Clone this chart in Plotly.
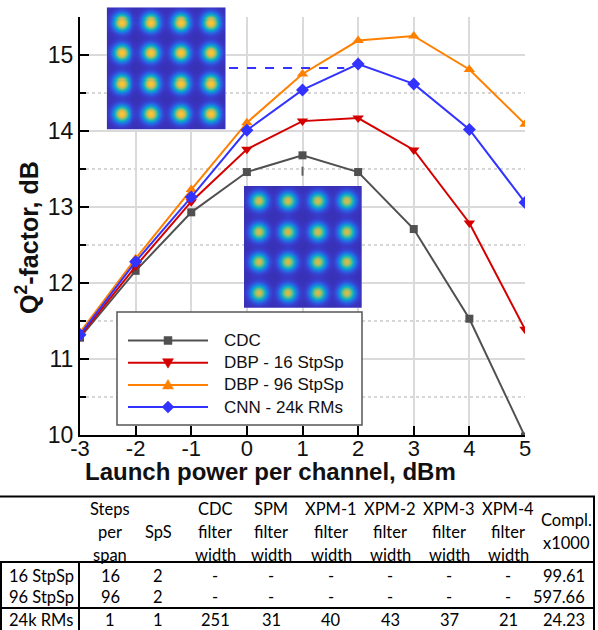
import numpy as np
import plotly.graph_objects as go

W, H = 598, 630

# ---------------- data ----------------
power = [-3, -2, -1, 0, 1, 2, 3, 4, 5]
power_labels = ["-3", "-2", "-1", "0", "1", "2", "3", "4", "5"]
q_ticks = [10, 11, 12, 13, 14, 15]

q_cdc = [11.28, 12.16, 12.93, 13.46, 13.68, 13.46, 12.71, 11.53, 9.98]
q_dbp16 = [11.30, 12.22, 13.07, 13.76, 14.13, 14.17, 13.75, 12.79, 11.39]
q_dbp96 = [11.35, 12.32, 13.23, 14.11, 14.75, 15.19, 15.25, 14.81, 14.09]
q_cnn = [11.32, 12.28, 13.13, 14.01, 14.54, 14.88, 14.62, 14.02, 13.06]

series_names = ["CDC", "DBP - 16 StpSp", "DBP - 96 StpSp", "CNN - 24k RMs"]
series_values = [q_cdc, q_dbp16, q_dbp96, q_cnn]
series_colors = ["#505050", "#d40000", "#ff8000", "#3333ff"]
series_symbols = ["square", "triangle-down", "triangle-up", "diamond"]
series_sizes = [8, 10, 10, 10]

# constellation-density insets: blob centres and peak levels
blob_pos = [0.5, 1.5, 2.5, 3.5]
inset_peaks = [0.80, 0.68]
inset_bg = 0.05
blob_sigma = 0.19

# table
table_header = [["Steps", "per", "span"], ["SpS"], ["CDC", "filter", "width"],
                ["SPM", "filter", "width"], ["XPM-1", "filter", "width"],
                ["XPM-2", "filter", "width"], ["XPM-3", "filter", "width"],
                ["XPM-4", "filter", "width"], ["Compl.", "x1000"]]
row_labels = ["16 StpSp", "96 StpSp", "24k RMs"]
table_rows = [
    ["16", "2", "-", "-", "-", "-", "-", "-", "99.61"],
    ["96", "2", "-", "-", "-", "-", "-", "-", "597.66"],
    ["1", "1", "251", "31", "40", "43", "37", "21", "24.23"],
]

# ---------------- helpers ----------------
def px(x):
    return x / W


def py(y):
    return 1 - y / H


FONT = "Liberation Sans, Arial, sans-serif"
TFONT = "Lato, Carlito, Calibri, sans-serif"

fig = go.Figure()

for name, vals, col, sym, sz in zip(series_names, series_values, series_colors,
                                    series_symbols, series_sizes):
    fig.add_trace(go.Scatter(
        x=power, y=vals, name=name, mode="lines+markers",
        line=dict(color=col, width=2),
        marker=dict(symbol=sym, size=sz, color=col, line=dict(width=0)),
        showlegend=False, xaxis="x", yaxis="y"))

# parula-like colour scale
parula = [[0.0, "#33289a"], [0.08, "#3a36c4"], [0.18, "#2c5ae2"], [0.28, "#1882dc"],
          [0.38, "#0ea2cd"], [0.48, "#2db7aa"], [0.58, "#75bf7e"], [0.68, "#bcbc5c"],
          [0.78, "#eebc3e"], [0.88, "#fbcf2c"], [1.0, "#f9fb0e"]]

ngrid = 120
g = (np.arange(ngrid) + 0.5) * 4.0 / ngrid
GX, GY = np.meshgrid(g, g)
for k, peak in enumerate(inset_peaks):
    z = np.full_like(GX, inset_bg)
    for cx in blob_pos:
        for cy in blob_pos:
            z += peak * np.exp(-((GX - cx) ** 2 + (GY - cy) ** 2) / (2 * blob_sigma ** 2))
    fig.add_trace(go.Heatmap(
        x=g, y=g, z=z, colorscale=parula, zmin=0, zmax=1, showscale=False,
        hoverinfo="skip", xaxis=f"x{k+2}", yaxis=f"y{k+2}"))

# ---------------- layout ----------------
X0, X1, Y0, Y1 = 80, 525, 17, 435
inset1 = (106.7, 225.7, 7.3, 129.7)
inset2 = (244, 361.7, 186, 307.7)

hidden = dict(visible=False, showgrid=False, zeroline=False, range=[0, 4], fixedrange=True)

fig.update_layout(
    width=W, height=H, margin=dict(l=0, r=0, t=0, b=0),
    paper_bgcolor="white", plot_bgcolor="white",
    showlegend=False,
    xaxis=dict(domain=[px(X0), px(X1)], range=[-3, 5], tickvals=power, ticktext=power_labels,
               showline=True, linecolor="black", linewidth=2, ticks="inside", ticklen=9,
               tickwidth=2, tickcolor="black", showgrid=True, gridcolor="#dadada",
               gridwidth=1.5, zeroline=False, automargin=False, ticklabelstandoff=-7,
               tickfont=dict(family=FONT, size=22, color="#111"), anchor="y"),
    yaxis=dict(domain=[py(Y1), py(Y0)], range=[10, 15.5], tickvals=q_ticks,
               showline=True, linecolor="black", linewidth=2, ticks="inside", ticklen=9,
               tickwidth=2, tickcolor="black", showgrid=True, gridcolor="#dadada",
               gridwidth=1.5, zeroline=False, automargin=False,
               tickfont=dict(family=FONT, size=23, color="#111"), anchor="x",
               minor=dict(dtick=0.5, tick0=10, ticks="inside", ticklen=6, tickwidth=1.5,
                          tickcolor="black", showgrid=True, griddash="dot",
                          gridcolor="#d6d6d6", gridwidth=1.5)),
    xaxis2=dict(domain=[px(inset1[0]), px(inset1[1])], anchor="y2", **hidden),
    yaxis2=dict(domain=[py(inset1[3]), py(inset1[2])], anchor="x2", **hidden),
    xaxis3=dict(domain=[px(inset2[0]), px(inset2[1])], anchor="y3", **hidden),
    yaxis3=dict(domain=[py(inset2[3]), py(inset2[2])], anchor="x3", **hidden),
)

shapes = []
ann = []

# leader lines from insets
shapes.append(dict(type="line", xref="x", yref="y", x0=-0.32, x1=1.75, y0=14.83, y1=14.83,
                   line=dict(color="#3333ff", width=2, dash="dash")))
shapes.append(dict(type="line", xref="x", yref="y", x0=1, x1=1, y0=13.53, y1=13.30,
                   line=dict(color="#606060", width=2, dash="dash")))

# axis titles
ann.append(dict(text="<b>Q<sup>2</sup>-factor, dB</b>", x=px(27), y=py(238), xref="paper",
                yref="paper", showarrow=False, textangle=-90,
                font=dict(family=FONT, size=25, color="#111"), xanchor="center",
                yanchor="middle"))
ann.append(dict(text="<b>Launch power per channel, dBm</b>", x=px(270), y=py(471),
                xref="paper", yref="paper", showarrow=False,
                font=dict(family=FONT, size=24, color="#111"), xanchor="center",
                yanchor="middle"))

# legend (drawn)
LB = (117, 312, 362, 425)
shapes.append(dict(type="rect", xref="paper", yref="paper", x0=px(LB[0]), x1=px(LB[2]),
                   y0=py(LB[3]), y1=py(LB[1]), line=dict(color="#555", width=1.5),
                   fillcolor="white"))
leg_y0, leg_dy = 340.5, 22.2
for i, (name, col, sym) in enumerate(zip(series_names, series_colors, series_symbols)):
    yc = leg_y0 + i * leg_dy
    shapes.append(dict(type="line", xref="paper", yref="paper", x0=px(128), x1=px(208),
                       y0=py(yc), y1=py(yc), line=dict(color=col, width=2)))
    mx = 168
    if sym == "square":
        pts = [(mx - 4, yc - 4), (mx + 4, yc - 4), (mx + 4, yc + 4), (mx - 4, yc + 4)]
    elif sym == "triangle-down":
        pts = [(mx - 5.5, yc - 4), (mx + 5.5, yc - 4), (mx, yc + 5.5)]
    elif sym == "triangle-up":
        pts = [(mx - 5.5, yc + 4), (mx + 5.5, yc + 4), (mx, yc - 5.5)]
    else:
        pts = [(mx, yc - 6), (mx + 6, yc), (mx, yc + 6), (mx - 6, yc)]
    path = "M " + " L ".join(f"{px(a):.5f},{py(b):.5f}" for a, b in pts) + " Z"
    shapes.append(dict(type="path", xref="paper", yref="paper", path=path,
                       fillcolor=col, line=dict(color=col, width=0.5)))
    ann.append(dict(text=name, x=px(222), y=py(yc), xref="paper", yref="paper",
                    showarrow=False, xanchor="left", yanchor="middle",
                    font=dict(family=FONT, size=17, color="#111")))

# table
col_x = [110, 158, 215, 271, 331, 390, 449, 508, 566]
hdr_center, hdr_dy = 531.5, 23
row_y = [575.5, 596.5, 619.5]
label_x = 41
TL = dict(color="black", width=2)
for yline in (496.5, 562, 608):
    shapes.append(dict(type="line", xref="paper", yref="paper", x0=0, x1=px(595),
                       y0=py(yline), y1=py(yline), line=TL))
shapes.append(dict(type="line", xref="paper", yref="paper", x0=px(594), x1=px(594),
                   y0=py(496.5), y1=0, line=TL))
for xv in (1, 79):
    shapes.append(dict(type="line", xref="paper", yref="paper", x0=px(xv), x1=px(xv),
                       y0=py(562), y1=0, line=TL))

for cx, lines in zip(col_x, table_header):
    n = len(lines)
    for j, t in enumerate(lines):
        yy = hdr_center + (j - (n - 1) / 2) * hdr_dy
        ann.append(dict(text=t, x=px(cx), y=py(yy), xref="paper", yref="paper",
                        showarrow=False, xanchor="center", yanchor="middle",
                        font=dict(family=TFONT, size=16.5, color="black")))
for ry, lab, vals in zip(row_y, row_labels, table_rows):
    ann.append(dict(text=lab, x=px(label_x), y=py(ry), xref="paper", yref="paper",
                    showarrow=False, xanchor="center", yanchor="middle",
                    font=dict(family=TFONT, size=16.5, color="black")))
    for k, (cx, v) in enumerate(zip(col_x, vals)):
        last = k == len(vals) - 1
        ann.append(dict(text=v, x=px(587 if last else cx), y=py(ry), xref="paper",
                        yref="paper", showarrow=False,
                        xanchor="right" if last else "center", yanchor="middle",
                        font=dict(family=TFONT, size=16.5, color="black")))

fig.update_layout(shapes=shapes, annotations=ann)
fig.write_html("out.html")
